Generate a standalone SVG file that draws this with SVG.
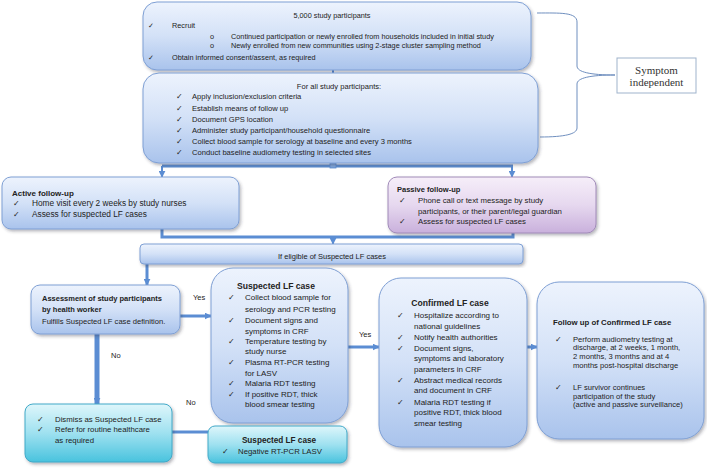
<svg xmlns="http://www.w3.org/2000/svg" width="707" height="469" viewBox="0 0 707 469">
<defs>
<linearGradient id="gBlue" x1="0" y1="0" x2="0" y2="1">
<stop offset="0" stop-color="#edf3fd"/><stop offset="0.5" stop-color="#d3e1f7"/><stop offset="1" stop-color="#a9c3ec"/>
</linearGradient>
<linearGradient id="gPurple" x1="0" y1="0" x2="0" y2="1">
<stop offset="0" stop-color="#f6eef9"/><stop offset="0.5" stop-color="#e6d8ef"/><stop offset="1" stop-color="#c9b0dc"/>
</linearGradient>
<linearGradient id="gCyan" x1="0" y1="0" x2="0" y2="1">
<stop offset="0" stop-color="#def6fb"/><stop offset="0.5" stop-color="#9fe1f0"/><stop offset="1" stop-color="#49c3de"/>
</linearGradient>
<filter id="sh" x="-10%" y="-10%" width="125%" height="130%">
<feDropShadow dx="1.5" dy="2" stdDeviation="1.5" flood-color="#334" flood-opacity="0.35"/>
</filter>
<marker id="ah" viewBox="0 0 10 10" refX="9" refY="5" markerWidth="7" markerHeight="7" markerUnits="userSpaceOnUse" orient="auto">
<path d="M0,0 L10,5 L0,10 z" fill="#5b8dd3"/>
</marker>
<style>
.bx{fill:url(#gBlue);stroke:#7e9fd4;stroke-width:1;filter:url(#sh)}
.pu{fill:url(#gPurple);stroke:#a08ab8;stroke-width:1;filter:url(#sh)}
.cy{fill:url(#gCyan);stroke:#41a9c8;stroke-width:1;filter:url(#sh)}
text{font-family:"Liberation Sans",Arial,sans-serif;fill:#222}
.b{font-weight:bold}
.c{text-anchor:middle}
.t7{font-size:7.3px}
.t72{font-size:7.6px}
.t75{font-size:7.5px}
.t78{font-size:7.8px}
.t8{font-size:8px}
.con{fill:none;stroke:#5b8dd3;stroke-width:3}
.thin{fill:none;stroke:#5b8dd3;stroke-width:2}
.br{fill:none;stroke:#6f8fbf;stroke-width:1}
.sym{font-family:"Liberation Serif","Times New Roman",serif;font-size:11px;fill:#333}
</style>
</defs>

<g id="connectors">
<line class="thin" x1="333" y1="70" x2="333" y2="73"/>
<path class="con" d="M162,166 H513"/>
<rect x="330" y="163" width="6" height="5" fill="#7fa6dc" stroke="#5b8dd3" stroke-width="0.8"/>
<path class="thin" d="M162,166 V177" marker-end="url(#ah)"/>
<path class="thin" d="M512,166 V177" marker-end="url(#ah)"/>
<path class="con" d="M162,229 V237 H513 V233"/>
<path class="thin" d="M333,237 V244" marker-end="url(#ah)"/>
<path class="con" d="M147,264 V285" marker-end="url(#ah)"/>
<path class="con" d="M180,316 H211" marker-end="url(#ah)"/>
<path class="con" d="M348,347 H379" marker-end="url(#ah)"/>
<path class="con" d="M527,347 H537" marker-end="url(#ah)"/>
<path fill="none" stroke="#5b8dd3" stroke-width="5" d="M97,334 V404" marker-end="url(#ah)"/>
<path class="con" d="M172,432 H208"/>
<path class="br" d="M537,13 C560,13 577,12 577,22 L577,66 C577,72 590,75 615,75 C590,75 577,78 577,84 L577,128 C577,134 565,137 540,137"/>
</g>

<g id="recruit">
<rect class="bx" x="143" y="2" width="388" height="68" rx="14"/>
<text class="t7 c" x="332" y="17.5">5,000 study participants</text>
<text class="t7" x="148" y="27.5">✓</text><text class="t7" x="172" y="27.5">Recruit</text>
<text class="t7" x="210" y="38.5">o</text><text class="t7" x="231" y="38.5">Continued participation or newly enrolled from households included in initial study</text>
<text class="t7" x="210" y="48">o</text><text class="t7" x="231" y="48">Newly enrolled from new communities using 2-stage cluster sampling method</text>
<text class="t7" x="148" y="59.5">✓</text><text class="t7" x="172" y="59.5">Obtain informed consent/assent, as required</text>
</g>

<g id="all-participants">
<rect class="bx" x="143" y="73" width="395" height="90" rx="16"/>
<text class="t72 c" x="339" y="89">For all study participants:</text>
<g class="t72">
<text x="176" y="99">✓</text><text x="192" y="99">Apply inclusion/exclusion criteria</text>
<text x="176" y="110.5">✓</text><text x="192" y="110.5">Establish means of follow up</text>
<text x="176" y="121.5">✓</text><text x="192" y="121.5">Document GPS location</text>
<text x="176" y="132.5">✓</text><text x="192" y="132.5">Administer study participant/household questionnaire</text>
<text x="176" y="143.5">✓</text><text x="192" y="143.5">Collect blood sample for serology at baseline and every 3 months</text>
<text x="176" y="154.5">✓</text><text x="192" y="154.5">Conduct baseline audiometry testing in selected sites</text>
</g>
</g>

<g id="symptom-independent">
<rect x="617" y="58" width="79" height="35" fill="#fff" stroke="#9fb3cc" stroke-width="1"/>
<text class="sym c" x="656.5" y="73.5">Symptom</text>
<text class="sym c" x="656.5" y="86">independent</text>
</g>

<g id="active">
<rect class="bx" x="2" y="177" width="237" height="52" rx="9"/>
<text class="b" x="12" y="195.5" style="font-size:8px">Active follow-up</text>
<text x="13" y="205.5" style="font-size:8.3px">✓</text><text x="32" y="205.5" style="font-size:8.3px">Home visit every 2 weeks by study nurses</text>
<text x="13" y="216.5" style="font-size:8.3px">✓</text><text x="32" y="216.5" style="font-size:8.3px">Assess for suspected LF cases</text>
</g>

<g id="passive">
<rect class="pu" x="388" y="177" width="208" height="56" rx="9"/>
<text class="t75 b" x="397" y="191.5">Passive follow-up</text>
<text class="t78" x="399" y="202.5">✓</text><text class="t78" x="418" y="202.5">Phone call or text message by study</text>
<text class="t78" x="418" y="214">participants, or their parent/legal guardian</text>
<text class="t78" x="399" y="224">✓</text><text class="t78" x="418" y="224">Assess for suspected LF cases</text>
</g>

<g id="eligible">
<rect class="bx" x="140" y="244" width="383" height="20" rx="4"/>
<text class="t75 c" x="332" y="259">If eligible of Suspected LF cases</text>
</g>

<g id="assessment">
<rect class="bx" x="31" y="285" width="149" height="49" rx="9"/>
<text class="t75 b" x="42" y="301">Assessment of study participants</text>
<text class="t75 b" x="42" y="312">by health worker</text>
<text class="t72" x="42" y="323.5">Fulfills Suspected LF case definition.</text>
</g>

<g id="labels">
<text class="t75" x="193" y="299.5">Yes</text>
<text class="t75" x="111" y="357.5">No</text>
<text class="t75" x="186" y="404.5">No</text>
<text class="t75" x="359" y="336.5">Yes</text>
</g>

<g id="suspected">
<rect class="bx" x="211" y="268" width="137" height="155" rx="22"/>
<text class="b c" x="276" y="289" style="font-size:8.6px">Suspected LF case</text>
<g class="t8">
<text x="228" y="299.5">✓</text><text x="245" y="299.5">Collect blood sample for</text>
<text x="245" y="312">serology and PCR testing</text>
<text x="228" y="323">✓</text><text x="245" y="323">Document signs and</text>
<text x="245" y="333.5">symptoms in CRF</text>
<text x="228" y="344">✓</text><text x="245" y="344">Temperature testing by</text>
<text x="245" y="354">study nurse</text>
<text x="228" y="365">✓</text><text x="245" y="365">Plasma RT-PCR testing</text>
<text x="245" y="376">for LASV</text>
<text x="228" y="386">✓</text><text x="245" y="386">Malaria RDT testing</text>
<text x="228" y="397">✓</text><text x="245" y="397">If positive RDT, thick</text>
<text x="245" y="407">blood smear testing</text>
</g>
</g>

<g id="confirmed">
<rect class="bx" x="379" y="278" width="148" height="169" rx="22"/>
<text class="b c" x="450" y="306" style="font-size:8.6px">Confirmed LF case</text>
<g class="t8">
<text x="397" y="318">✓</text><text x="414" y="318">Hospitalize according to</text>
<text x="414" y="329">national guidelines</text>
<text x="397" y="340">✓</text><text x="414" y="340">Notify health authorities</text>
<text x="397" y="351">✓</text><text x="414" y="351">Document signs,</text>
<text x="414" y="361">symptoms and laboratory</text>
<text x="414" y="372">parameters in CRF</text>
<text x="397" y="383">✓</text><text x="414" y="383">Abstract medical records</text>
<text x="414" y="393">and document in CRF</text>
<text x="397" y="404.5">✓</text><text x="414" y="404.5">Malaria RDT testing if</text>
<text x="414" y="415">positive RDT, thick blood</text>
<text x="414" y="426">smear testing</text>
</g>
</g>

<g id="followup">
<rect class="bx" x="537" y="282" width="167" height="157" rx="22"/>
<text class="t78 b" x="553" y="324.5">Follow up of Confirmed LF case</text>
<g class="t72">
<text x="555" y="341.5">✓</text><text x="573" y="341.5">Perform audiometry testing at</text>
<text x="573" y="350">discharge, at 2 weeks, 1 month,</text>
<text x="573" y="358.8">2 months, 3 months and at 4</text>
<text x="573" y="367.7">months post-hospital discharge</text>
<text x="555" y="389.5">✓</text><text x="573" y="389.5">LF survivor continues</text>
<text x="573" y="398.5">participation of the study</text>
<text x="573" y="407">(active and passive surveillance)</text>
</g>
</g>

<g id="dismiss">
<rect class="cy" x="25" y="404" width="147" height="58" rx="8"/>
<text class="t78" x="37" y="421.5">✓</text><text class="t78" x="55" y="421.5">Dismiss as Suspected LF case</text>
<text class="t78" x="37" y="432">✓</text><text class="t78" x="55" y="432">Refer for routine healthcare</text>
<text class="t78" x="55" y="442.5">as required</text>
</g>

<g id="suspected-negative">
<rect class="cy" x="208" y="426" width="139" height="37" rx="7"/>
<text class="b c" x="279" y="443" style="font-size:8.2px">Suspected LF case</text>
<text class="t78" x="222" y="454">✓</text><text class="t78" x="238" y="454">Negative RT-PCR LASV</text>
</g>
</svg>
